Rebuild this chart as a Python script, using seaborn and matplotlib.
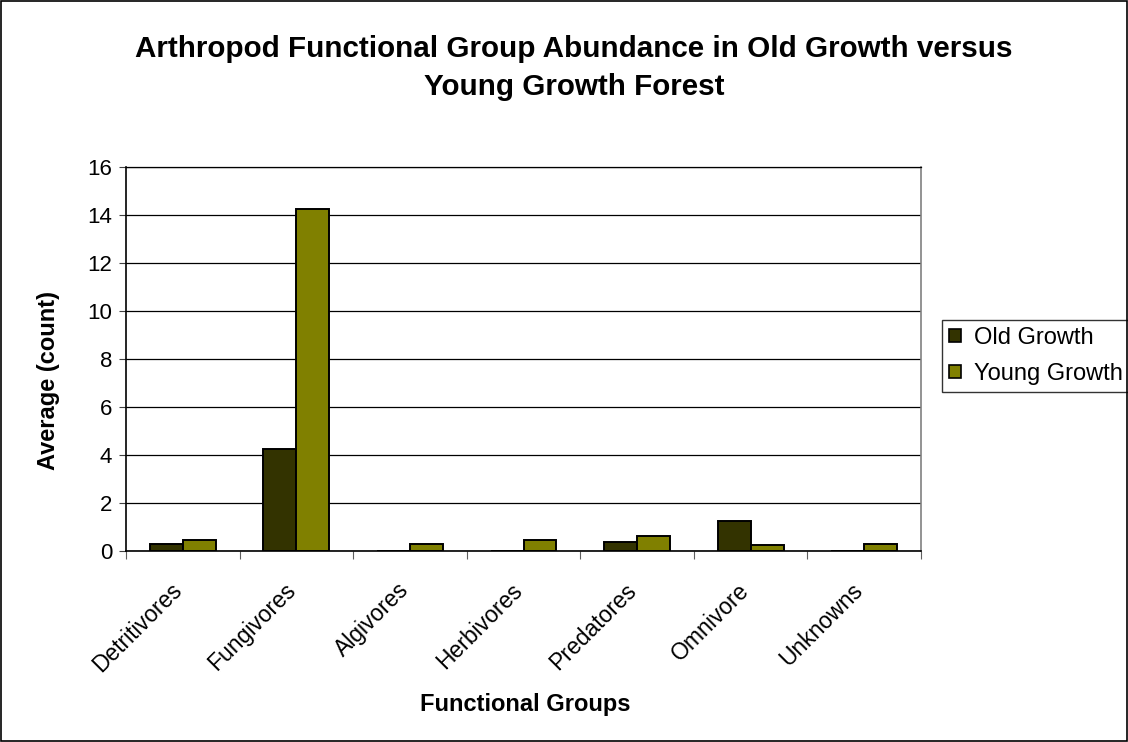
import matplotlib
matplotlib.use("Agg")
import matplotlib.pyplot as plt
import seaborn as sns
import pandas as pd
import numpy as np
from matplotlib.patches import Rectangle

categories = ["Detritivores", "Fungivores", "Algivores", "Herbivores", "Predatores", "Omnivore", "Unknowns"]
old_growth = [0.31, 4.23, 0.0, 0.0, 0.38, 1.23, 0.0]
young_growth = [0.46, 14.23, 0.31, 0.46, 0.62, 0.23, 0.31]
series_names = ["Old Growth", "Young Growth"]
yticks = [0, 2, 4, 6, 8, 10, 12, 14, 16]
title_lines = ["Arthropod Functional Group Abundance in Old Growth versus", "Young Growth Forest"]

df = pd.DataFrame({
    "group": categories * 2,
    "value": old_growth + young_growth,
    "series": [series_names[0]] * len(categories) + [series_names[1]] * len(categories),
})

sns.set_theme(style="white")
plt.rcParams['font.family'] = ['Liberation Sans', 'DejaVu Sans']

W, H = 1128, 742
fig = plt.figure(figsize=(W / 100, H / 100), dpi=100)
L, R, T, B = 126, 921, 167, 551
ax = fig.add_axes([L / W, 1 - B / H, (R - L) / W, (B - T) / H])

palette = {"Old Growth": "#333300", "Young Growth": "#808000"}
sns.barplot(data=df, x="group", y="value", hue="series", palette=palette,
            order=categories, hue_order=series_names, width=0.58, gap=0,
            edgecolor="black", linewidth=1.4, saturation=1, ax=ax, legend=True)

ax.set_ylim(0, 16)
ax.set_xlim(-0.5, len(categories) - 0.5)
ax.set_yticks(yticks)
ax.set_yticklabels([str(t) for t in yticks], fontsize=16, color="black")
ax.yaxis.grid(True, color="black", linewidth=0.9)
ax.set_axisbelow(True)
ax.tick_params(axis="y", which="major", left=True, length=5, width=0.8, color="#404040", pad=5)

ax.set_xticks(range(len(categories)))
ax.set_xticklabels(categories, rotation=45, ha="right", va="baseline",
                   rotation_mode="anchor", fontsize=16.5, color="black")
ax.tick_params(axis="x", which="major", length=0, pad=29)
ax.set_xticks(np.arange(-0.5, len(categories), 1.0), minor=True)
ax.tick_params(axis="x", which="minor", bottom=True, length=6, width=0.8, color="#606060")

for s in ["left", "bottom", "right", "top"]:
    ax.spines[s].set_visible(True)
    ax.spines[s].set_linewidth(1.2)
ax.spines["left"].set_color("#000000")
ax.spines["top"].set_color("#000000")
ax.spines["right"].set_color("#808080")
ax.spines["bottom"].set_color("#000000")
ax.spines["top"].set_linewidth(0.9)

ax.set_xlabel("Functional Groups", fontsize=17, fontweight="bold", color="black")
ax.xaxis.set_label_coords((525 - L) / (R - L), -0.370)
ax.set_ylabel("Average (count)", fontsize=17, fontweight="bold", color="black")
ax.yaxis.set_label_coords((60 - L) / (R - L), 0.443)

fig.text(574 / W, 1 - 57 / H, title_lines[0], ha="center", va="baseline",
         fontsize=21.3, fontweight="bold", color="black")
fig.text(574 / W, 1 - 95 / H, title_lines[1], ha="center", va="baseline",
         fontsize=21.3, fontweight="bold", color="black")

leg = ax.legend(loc="upper left", bbox_to_anchor=(942 / W, 1 - 320 / H),
                bbox_transform=fig.transFigure, frameon=True, fancybox=False,
                fontsize=17, handlelength=0.5, handleheight=0.5, handletextpad=0.55,
                borderpad=0.3, labelspacing=0.58, borderaxespad=0)
leg.get_frame().set_edgecolor("black")
leg.get_frame().set_linewidth(1.0)
for t in leg.get_texts():
    t.set_color("black")
for h in leg.legend_handles:
    h.set_edgecolor("black")
    h.set_linewidth(1.2)

fig.patches.append(Rectangle((0.001, 0.001), 0.998, 0.998, transform=fig.transFigure,
                             fill=False, edgecolor="black", linewidth=1.2))

fig.savefig("out.png", dpi=100)
